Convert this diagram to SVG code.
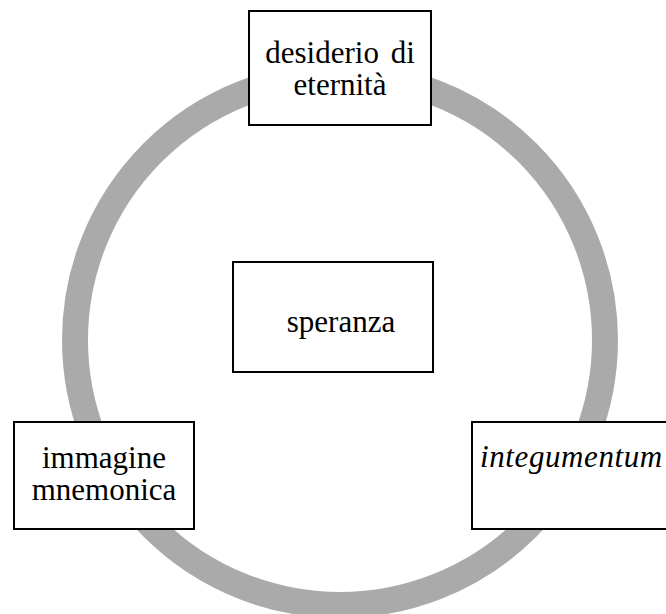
<svg xmlns="http://www.w3.org/2000/svg" width="666" height="614" viewBox="0 0 666 614">
<style>
.box{fill:#ffffff;stroke:#000000;stroke-width:2}
.t{font-family:"Liberation Serif","Times New Roman",serif;font-size:31px;fill:#000000;text-anchor:middle}
.it{font-style:italic}
</style>
<rect width="666" height="614" fill="#ffffff"/>
<g id="connectors">
<circle cx="340" cy="340" r="265" fill="none" stroke="#aaaaaa" stroke-width="26"/>
</g>
<g id="node-desiderio">
<rect class="box" x="249" y="11" width="182" height="114"/>
<text class="t" x="340" y="63" word-spacing="4">desiderio di</text>
<text class="t" x="340" y="95">eternità</text>
</g>
<g id="node-speranza">
<rect class="box" x="233" y="262" width="200" height="110"/>
<text class="t" x="341" y="332">speranza</text>
</g>
<g id="node-immagine">
<rect class="box" x="14" y="422" width="180" height="107"/>
<text class="t" x="104" y="468">immagine</text>
<text class="t" x="104" y="500">mnemonica</text>
</g>
<g id="node-integumentum">
<rect class="box" x="472" y="422" width="200" height="107"/>
<text class="t it" x="480" y="467" style="text-anchor:start" letter-spacing="0.6">integumentum</text>
</g>
</svg>
